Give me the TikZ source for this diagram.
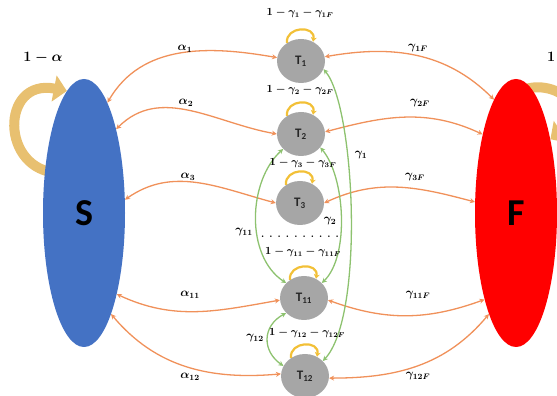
\documentclass[tikz,border=0pt]{standalone}
\usepackage{fontspec}
\newfontfamily\calib{Carlito}
\usetikzlibrary{shapes.geometric,arrows.meta,calc}
\pgfdeclarelayer{background}
\pgfsetlayers{background,main}
\definecolor{sblue}{HTML}{4472C4}
\definecolor{fred}{HTML}{FF0000}
\definecolor{tgray}{HTML}{A6A6A6}
\definecolor{orangec}{HTML}{F0915A}
\definecolor{greenc}{HTML}{8DC26F}
\definecolor{goldc}{HTML}{F2C037}
\definecolor{bandc}{HTML}{E8C070}
\begin{document}
\begin{tikzpicture}[x=1pt,y=1pt,
  tnode/.style={ellipse, fill=tgray, minimum width=48pt, minimum height=44pt, inner sep=0pt, text=black!85, font=\calib\bfseries\fontsize{13}{14}\selectfont},
  bignode/.style={ellipse, minimum width=82pt, minimum height=268pt, inner sep=0pt, font=\calib\bfseries\fontsize{38}{40}\selectfont},
  orr/.style={draw=orangec, line width=1.3pt, {Stealth[length=5pt,width=5pt]}-{Stealth[length=5pt,width=5pt]}},
  grn/.style={draw=greenc, line width=1.3pt, {Stealth[length=5pt,width=5pt]}-{Stealth[length=5pt,width=5pt]}},
  tloop/.style={draw=goldc, line width=2.2pt, -{Stealth[length=4.5pt,width=6pt]}},
  band/.style={draw=bandc, line width=10pt, -{Triangle[length=13pt,width=26pt]}},
  lab/.style={font=\fontsize{12}{14}\selectfont\boldmath, inner sep=1pt},
  slab/.style={font=\fontsize{10.5}{12}\selectfont\boldmath, inner sep=1pt}
]
\useasboundingbox (0,0) rectangle (557,396);

% big states
\node[bignode, fill=sblue] (S) at (84,183) {S};
\node[bignode, fill=fred] (F) at (516,183) {F};

% transient states
\node[tnode] (T1) at (301,335) {T\textsubscript{1}};
\node[tnode] (T2) at (301,262) {T\textsubscript{2}};
\node[tnode] (T3) at (300,193) {T\textsubscript{3}};
\node[tnode] (T11) at (304,98) {T\textsubscript{11}};
\node[tnode] (T12) at (305,20) {T\textsubscript{12}};

% big self loops
\begin{pgfonlayer}{background}
\draw[band] ($(S.center)+(-25,40)$) .. controls (0,225) and (0,318) .. (S.98);
\draw[band] ($(F.center)+(-10,112)$) .. controls (540,330) and (600,290) .. (F.65);
\end{pgfonlayer}
\node[lab, font=\fontsize{15}{17}\selectfont\boldmath] (la) at (43,338) {$1-\alpha$};
\node[lab, font=\fontsize{15}{17}\selectfont\boldmath, anchor=west, inner sep=0pt] (lb) at (547,338) {$1-\alpha$};

% S -- T connectors
\draw[orr] (S.78) to[out=60,in=170] (T1.172);
\draw[orr] (S.69) to[out=45,in=170] (T2.180);
\draw[orr] (S.18) to[out=35,in=165] (T3.180);
\draw[orr] (S.-68) to[out=-25,in=190] (T11.185);
\draw[orr] (S.-75) to[out=-50,in=185] (T12.175);
\node[lab] (a1) at (185,347) {$\alpha_1$};
\node[lab] (a2) at (186,293) {$\alpha_2$};
\node[lab] (a3) at (188,219) {$\alpha_3$};
\node[lab] (a11) at (190,101) {$\alpha_{11}$};
\node[lab] (a12) at (190,19) {$\alpha_{12}$};

% T -- F connectors
\draw[orr] (T1.10) to[out=10,in=135] (F.101);
\draw[orr] (T2.5) to[out=15,in=155] (F.113);
\draw[orr] (T3.0) to[out=25,in=165] (F.165);
\draw[orr] (T11.-5) to[out=-20,in=200] (F.250);
\draw[orr] (T12.-5) to[out=0,in=230] (F.255);
\node[lab] (g1) at (418,348) {$\gamma_{1F}$};
\node[lab] (g2) at (420,293) {$\gamma_{2F}$};
\node[lab] (g3) at (415,219) {$\gamma_{3F}$};
\node[lab] (g11) at (418,101) {$\gamma_{11F}$};
\node[lab] (g12) at (418,20) {$\gamma_{12F}$};

% T -- T connectors
\draw[grn] (T1.-20) .. controls (355,290) and (365,80) .. (T12.40);
\draw[grn] (T2.-35) .. controls (345,220) and (350,140) .. (T11.40);
\draw[grn] (T2.-140) .. controls (248,215) and (245,140) .. (T11.140);
\draw[grn] (T11.-140) .. controls (262,70) and (262,45) .. (T12.155);
\node[lab] (c1) at (361,241) {$\gamma_1$};
\node[lab] (c2) at (330,175) {$\gamma_2$};
\node[lab] (c11) at (244,164) {$\gamma_{11}$};
\node[lab] (c12) at (255,58) {$\gamma_{12}$};

% T self loops
\foreach \t in {T1,T2,T3,T11,T12}{
  \draw[tloop] (\t.128) .. controls +(95:17) and +(80:17) .. (\t.58);
}
\node[slab] (s1) at (300,383) {$1-\gamma_1-\gamma_{1F}$};
\node[slab] (s2) at (300,306) {$1-\gamma_2-\gamma_{2F}$};
\node[slab] (s3) at (303,233) {$1-\gamma_3-\gamma_{3F}$};
\node[font=\bfseries\fontsize{10}{11}\selectfont, inner sep=0pt] (dots) at (300,159) {. . . . . . . . . .};
\node[slab] (s11) at (303,144) {$1-\gamma_{11}-\gamma_{11F}$};
\node[slab] (s12) at (307,63) {$1-\gamma_{12}-\gamma_{12F}$};
\end{tikzpicture}
\end{document}
